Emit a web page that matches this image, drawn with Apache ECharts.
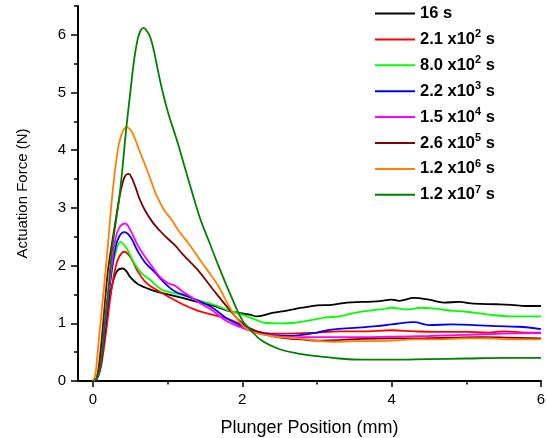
<!DOCTYPE html>
<html>
<head>
<meta charset="utf-8">
<script src="https://cdn.jsdelivr.net/npm/echarts@6/dist/echarts.min.js"></script>
<style>html,body{margin:0;padding:0;background:#fff}#c{width:547px;height:438px}</style>
</head>
<body>
<div id="c"></div>
<script>
var seriesNames = ['16 s', '2.1 x10^2 s', '8.0 x10^2 s', '2.2 x10^3 s', '1.5 x10^4 s', '2.6 x10^5 s', '1.2 x10^6 s', '1.2 x10^7 s'];
var seriesColors = ['#000000', '#ff0000', '#00ff00', '#0000ff', '#ff00ff', '#800000', '#ff8000', '#008000'];
var xMajorTicks = [0, 2, 4, 6];
var xMinorTicks = [1, 3, 5];
var yMajorTicks = [0, 1, 2, 3, 4, 5, 6];
var yMinorTicks = [0.5, 1.5, 2.5, 3.5, 4.5, 5.5, 6.5];

var s16 = [[0,0],[0.05,0.05],[0.1,0.3],[0.15,0.75],[0.2,1.25],[0.25,1.62],[0.3,1.85],[0.35,1.94],[0.4,1.95],[0.45,1.9],[0.5,1.8],[0.6,1.68],[0.7,1.62],[0.8,1.57],[1.0,1.5],[1.2,1.44],[1.4,1.37],[1.6,1.31],[1.8,1.22],[2.0,1.17],[2.1,1.15],[2.2,1.12],[2.4,1.18],[2.6,1.22],[2.8,1.27],[3.0,1.31],[3.2,1.32],[3.4,1.36],[3.6,1.37],[3.8,1.38],[4.0,1.41],[4.1,1.39],[4.3,1.44],[4.5,1.41],[4.7,1.36],[4.9,1.37],[5.1,1.34],[5.4,1.33],[5.6,1.32],[5.8,1.30],[6.0,1.30]];
var s210 = [[0,0],[0.05,0.03],[0.1,0.2],[0.15,0.6],[0.2,1.1],[0.25,1.6],[0.3,1.95],[0.35,2.15],[0.42,2.24],[0.5,2.15],[0.6,1.9],[0.7,1.72],[0.8,1.62],[1.0,1.47],[1.2,1.33],[1.4,1.22],[1.6,1.15],[1.8,1.08],[2.0,0.97],[2.2,0.86],[2.4,0.82],[2.6,0.82],[2.8,0.83],[3.0,0.84],[3.3,0.86],[3.6,0.86],[4.0,0.88],[4.3,0.86],[4.6,0.85],[5.0,0.85],[5.3,0.84],[5.5,0.86],[5.8,0.84],[6.0,0.84]];
var s800 = [[0,0],[0.05,0.05],[0.1,0.35],[0.15,0.9],[0.2,1.45],[0.25,1.9],[0.3,2.2],[0.37,2.41],[0.45,2.3],[0.55,2.05],[0.65,1.87],[0.77,1.75],[0.9,1.6],[1.0,1.55],[1.2,1.49],[1.4,1.4],[1.6,1.33],[1.8,1.23],[2.0,1.15],[2.2,1.05],[2.3,1.01],[2.5,1.0],[2.7,1.01],[2.9,1.05],[3.1,1.1],[3.3,1.12],[3.5,1.18],[3.7,1.22],[3.9,1.25],[4.0,1.27],[4.2,1.24],[4.4,1.27],[4.6,1.25],[4.8,1.22],[5.0,1.2],[5.3,1.15],[5.6,1.12],[6.0,1.12]];
var s2200 = [[0,0],[0.05,0.03],[0.1,0.25],[0.15,0.75],[0.2,1.35],[0.25,1.9],[0.3,2.3],[0.35,2.5],[0.42,2.58],[0.5,2.5],[0.6,2.25],[0.7,2.05],[0.8,1.92],[0.9,1.78],[1.0,1.65],[1.1,1.55],[1.2,1.5],[1.4,1.4],[1.6,1.27],[1.8,1.08],[2.0,0.95],[2.2,0.85],[2.4,0.8],[2.6,0.78],[2.8,0.8],[3.0,0.84],[3.2,0.89],[3.5,0.92],[3.8,0.95],[4.0,0.98],[4.3,1.02],[4.5,0.97],[4.8,0.98],[5.1,0.97],[5.4,0.95],[5.7,0.94],[6.0,0.90]];
var s15000 = [[0,0],[0.05,0.04],[0.1,0.3],[0.15,0.85],[0.2,1.45],[0.25,2.0],[0.3,2.45],[0.35,2.65],[0.43,2.73],[0.5,2.62],[0.6,2.35],[0.7,2.15],[0.8,1.97],[0.9,1.8],[1.0,1.7],[1.1,1.65],[1.2,1.55],[1.3,1.47],[1.4,1.38],[1.6,1.22],[1.8,1.03],[2.0,0.92],[2.2,0.83],[2.4,0.79],[2.6,0.76],[3.0,0.76],[3.5,0.76],[4.0,0.77],[4.5,0.78],[5.0,0.8],[5.5,0.82],[6.0,0.83]];
var s260000 = [[0,0],[0.05,0.05],[0.1,0.5],[0.15,1.2],[0.2,1.9],[0.25,2.35],[0.3,2.75],[0.35,3.15],[0.4,3.45],[0.44,3.57],[0.48,3.59],[0.52,3.52],[0.57,3.36],[0.62,3.17],[0.7,2.95],[0.8,2.75],[0.9,2.6],[1.0,2.47],[1.1,2.35],[1.2,2.2],[1.4,1.93],[1.6,1.6],[1.82,1.25],[2.0,1.0],[2.2,0.85],[2.4,0.78],[2.6,0.74],[2.8,0.72],[3.0,0.7],[3.3,0.71],[3.6,0.73],[4.0,0.74],[4.4,0.74],[4.8,0.75],[5.2,0.76],[5.6,0.75],[6.0,0.74]];
var s1200000 = [[0,0],[0.03,0.1],[0.06,0.45],[0.1,1.0],[0.15,1.65],[0.2,2.35],[0.25,3.1],[0.3,3.7],[0.35,4.12],[0.4,4.33],[0.45,4.4],[0.5,4.36],[0.55,4.24],[0.6,4.07],[0.65,3.9],[0.7,3.74],[0.77,3.5],[0.85,3.22],[0.95,2.97],[1.05,2.8],[1.15,2.6],[1.3,2.35],[1.46,2.05],[1.6,1.8],[1.7,1.6],[1.82,1.3],[2.0,0.97],[2.15,0.85],[2.3,0.8],[2.5,0.76],[2.75,0.74],[3.0,0.7],[3.2,0.68],[3.5,0.69],[3.8,0.69],[4.0,0.7],[4.3,0.72],[4.6,0.72],[5.0,0.74],[5.3,0.74],[5.6,0.72],[6.0,0.72]];
var s12000000 = [[0,0],[0.05,0.04],[0.1,0.25],[0.16,1.0],[0.2,1.5],[0.25,2.2],[0.3,2.7],[0.35,3.15],[0.4,3.75],[0.44,4.3],[0.5,5.0],[0.55,5.55],[0.6,5.93],[0.64,6.08],[0.68,6.12],[0.72,6.07],[0.77,5.95],[0.82,5.7],[0.9,5.2],[1.0,4.68],[1.13,4.15],[1.22,3.75],[1.31,3.35],[1.44,2.8],[1.56,2.4],[1.68,2.0],[1.84,1.5],[2.0,1.05],[2.1,0.9],[2.26,0.7],[2.5,0.55],[2.73,0.48],[3.0,0.43],[3.3,0.39],[3.6,0.37],[4.0,0.37],[4.5,0.38],[5.0,0.39],[5.5,0.4],[6.0,0.4]];
var allData = [s16, s210, s800, s2200, s15000, s260000, s1200000, s12000000];

var FONT = 'Liberation Sans, Arial, sans-serif';
var chart = echarts.init(document.getElementById('c'), null, {renderer: 'canvas'});

var series = seriesNames.map(function (n, i) {
  return {
    name: n, type: 'line', xAxisIndex: 0, yAxisIndex: 0,
    data: allData[i], smooth: 0.4, symbol: 'none',
    lineStyle: {color: seriesColors[i], width: 1.8},
    itemStyle: {color: seriesColors[i]}
  };
});

var axisLineStyle = {color: '#000', width: 2};
chart.setOption({
  animation: false,
  backgroundColor: '#fff',
  grid: {left: 78, right: 6, top: 6, bottom: 57, containLabel: false, outerBoundsMode: 'none'},
  legend: {
    orient: 'vertical', left: 370, top: 0,
    icon: 'rect', itemWidth: 40, itemHeight: 2, itemGap: 6.9,
    data: seriesNames,
    formatter: function (name) {
      return name.replace(/\^(\d+)/, '{sup|$1}');
    },
    textStyle: {
      fontFamily: FONT, fontSize: 16.5, fontWeight: 'bold', color: '#000',
      height: 17, lineHeight: 17,
      rich: {
        sup: {fontFamily: FONT, fontSize: 11, fontWeight: 'bold', color: '#000', padding: [0, 0, 10, 0]}
      }
    }
  },
  xAxis: [{
    type: 'value', min: -0.2, max: 6,
    name: 'Plunger Position (mm)', nameLocation: 'middle', nameGap: 38,
    nameTextStyle: {fontFamily: FONT, fontSize: 18, color: '#000'},
    axisLine: {show: true, onZero: false, lineStyle: axisLineStyle},
    axisTick: {show: true, inside: false, length: 6, customValues: xMajorTicks, lineStyle: {color: '#000', width: 1.5}},
    axisLabel: {customValues: xMajorTicks, margin: 11, fontFamily: FONT, fontSize: 15, color: '#000'},
    splitLine: {show: false}
  }, {
    type: 'value', min: -0.2, max: 6, position: 'bottom',
    axisLine: {show: false, onZero: false},
    axisTick: {show: true, length: 3.5, customValues: xMinorTicks, lineStyle: {color: '#000', width: 1.5}},
    axisLabel: {show: false},
    splitLine: {show: false}
  }],
  yAxis: [{
    type: 'value', min: 0, max: 6.5,
    name: 'Actuation Force (N)', nameLocation: 'middle', nameGap: 48, nameRotate: 90,
    nameTextStyle: {fontFamily: FONT, fontSize: 15, color: '#000'},
    axisLine: {show: true, onZero: false, lineStyle: axisLineStyle},
    axisTick: {show: true, inside: false, length: 7, customValues: yMajorTicks, lineStyle: {color: '#000', width: 1.5}},
    axisLabel: {customValues: yMajorTicks, margin: 12, fontFamily: FONT, fontSize: 15, color: '#000'},
    splitLine: {show: false}
  }, {
    type: 'value', min: 0, max: 6.5, position: 'left',
    axisLine: {show: false, onZero: false},
    axisTick: {show: true, length: 4, customValues: yMinorTicks, lineStyle: {color: '#000', width: 1.5}},
    axisLabel: {show: false},
    splitLine: {show: false}
  }],
  series: series
});
</script>
</body>
</html>
